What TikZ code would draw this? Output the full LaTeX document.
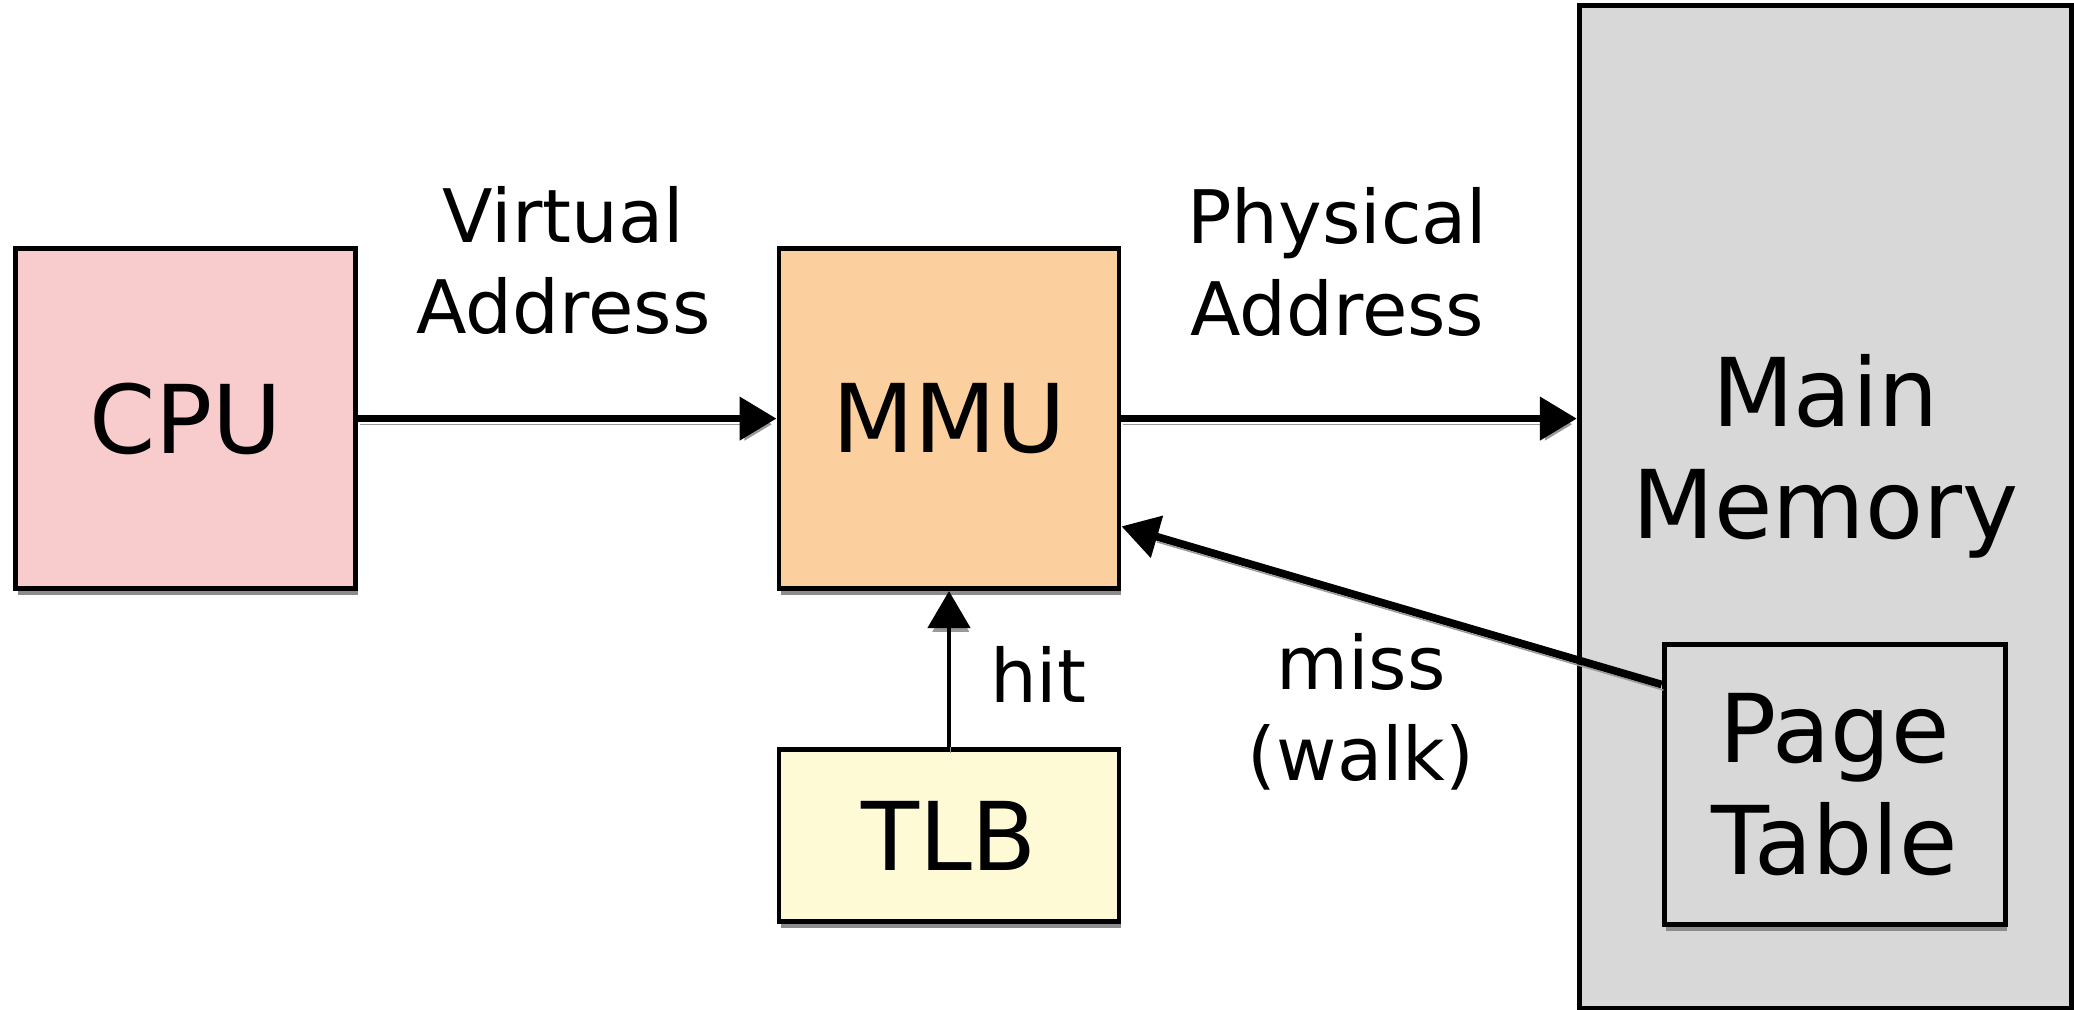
\documentclass[tikz,border=0pt]{standalone}
\usepackage{fontspec}
\setmainfont{DejaVu Sans}
\usetikzlibrary{arrows.meta,shadows}

\definecolor{cpupink}{RGB}{248,204,204}
\definecolor{mmuorange}{RGB}{251,207,158}
\definecolor{tlbyellow}{RGB}{255,250,214}
\definecolor{memgray}{RGB}{216,216,216}

\tikzset{
  unit/.style={draw, line width=1.4pt, inner sep=0pt, align=center,
    minimum width=3.4cm, font=\fontsize{27}{32}\selectfont,
    drop shadow={shadow xshift=0.5pt, shadow yshift=-1.8pt, fill=black!45, opacity=1}},
  flow/.style={draw, line width=2.2pt, -{Triangle[length=0.37cm,width=0.42cm]},
    preaction={draw=black!40, transform canvas={shift={(0.5pt,-1.6pt)}}}},
  tag/.style={align=center, font=\fontsize{21}{26}\selectfont}
}

\begin{document}
\begin{tikzpicture}

      \useasboundingbox (0,0) rectangle (20.74,10.10);

      \begin{scope}[every node/.style={unit}]
        \node[fill=cpupink, minimum height=3.4cm]   (cpu) at (1.858,5.914)  {CPU};
        \node[fill=mmuorange, minimum height=3.4cm] (mmu) at (9.49,5.914)   {MMU};
        \node[fill=tlbyellow, minimum height=1.72cm] (tlb) at (9.49,1.741)  {TLB};
        \node[fill=memgray, minimum width=4.92cm, minimum height=10.03cm] (mem) at (18.253,5.034) {};
        \node[fill=memgray, minimum width=3.41cm, minimum height=2.8cm] (pt) at (18.346,2.256) {Page\\Table};
      \end{scope}

      \node[align=center, font=\fontsize{27}{32}\selectfont] (memtext) at (18.253,5.537) {Main\\Memory};

      \begin{scope}[every node/.style={tag}]
        \node (va)   at (5.635,7.494)  {Virtual\\Address};
        \node (pa)   at (13.373,7.481) {Physical\\Address};
        \node (hit)  at (10.383,3.354) {hit};
        \node (miss) at (13.611,2.984) {miss\\(walk)};
      \end{scope}

      \begin{scope}[every edge/.style={flow}]
        \path (cpu)    edge (mmu);
        \path (mmu)    edge (mmu.east -| mem.west);
        \path (tlb)    edge[line width=1.4pt] (mmu);
        \path (pt.150) edge (mmu.328);
      \end{scope}

    \end{tikzpicture}
\end{document}
